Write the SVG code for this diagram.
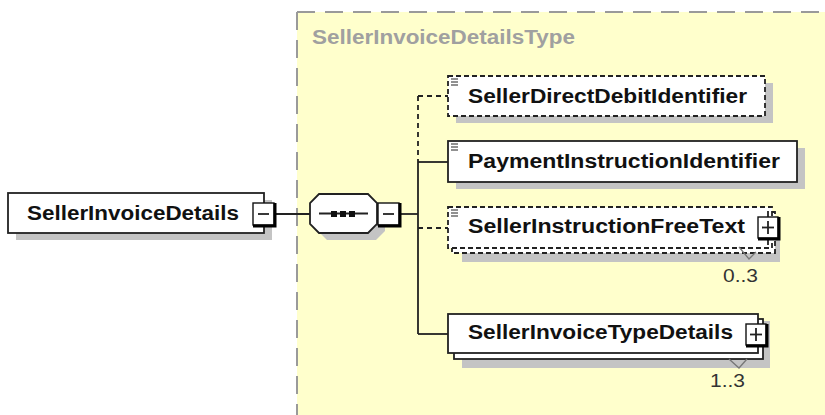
<svg xmlns="http://www.w3.org/2000/svg" width="825" height="415" viewBox="0 0 825 415">
  <style>
    .name { font-family: "Liberation Sans", Arial, sans-serif; font-weight: bold; font-size: 19.5px; fill: #111; }
    .title { font-family: "Liberation Sans", Arial, sans-serif; font-weight: bold; font-size: 19.5px; fill: #a0a0a0; }
    .occ { font-family: "Liberation Sans", Arial, sans-serif; font-size: 18px; fill: #333; }
    .box { fill: #fff; stroke: #222; stroke-width: 1.8; }
    .dbox { fill: #fff; stroke: #222; stroke-width: 1.8; stroke-dasharray: 5 3; }
    .shadow { fill: #c4c4c4; }
    .ln { stroke: #222; stroke-width: 1.8; fill: none; }
    .dln { stroke: #222; stroke-width: 1.8; fill: none; stroke-dasharray: 5 4; }
    .btn { fill: #fff; stroke: #111; stroke-width: 1.4; }
    .btnedge { stroke: #000; stroke-width: 3; fill: none; }
    .icon { stroke: #555; stroke-width: 1.3; }
    .notch { stroke: #777; stroke-width: 1.3; fill: none; }
  </style>

  <!-- complex type area -->
  <g id="type-area">
    <rect x="297" y="12" width="530" height="405" fill="#ffffcc"/>
    <line x1="297" y1="12" x2="825" y2="12" stroke="#9a9a9a" stroke-width="2" stroke-dasharray="18 10"/>
    <line x1="297" y1="12" x2="297" y2="415" stroke="#9a9a9a" stroke-width="2" stroke-dasharray="18 10"/>
    <text class="title" x="312" y="44" textLength="263" lengthAdjust="spacingAndGlyphs">SellerInvoiceDetailsType</text>
  </g>

  <!-- connectors -->
  <g id="connectors">
    <line class="ln" x1="276" y1="214" x2="310" y2="214"/>
    <line class="ln" x1="400" y1="214" x2="418" y2="214"/>
    <line class="dln" x1="418" y1="96" x2="418" y2="162"/>
    <line class="ln" x1="418" y1="162" x2="418" y2="334"/>
    <line class="dln" x1="418" y1="96" x2="448" y2="96"/>
    <line class="ln" x1="418" y1="162" x2="448" y2="162"/>
    <line class="dln" x1="418" y1="228" x2="448" y2="228"/>
    <line class="ln" x1="418" y1="334" x2="448" y2="334"/>
  </g>

  <!-- root element -->
  <g id="node-SellerInvoiceDetails">
    <rect class="shadow" x="16" y="200" width="256" height="40"/>
    <rect class="box" x="8" y="193" width="256" height="40"/>
    <text class="name" x="27" y="220" textLength="212" lengthAdjust="spacingAndGlyphs">SellerInvoiceDetails</text>
    <rect class="btn" x="253" y="203" width="21" height="22"/>
    <polyline class="btnedge" points="275,203 275,226 253,226"/>
    <line class="ln" x1="258" y1="214" x2="269" y2="214"/>
  </g>

  <!-- sequence compositor -->
  <g id="node-sequence">
    <polygon class="shadow" points="327,201 376,201 385,210 385,231 376,240 327,240 318,231 318,210"/>
    <polygon class="box" points="319,194 368,194 377,203 377,224 368,233 319,233 310,224 310,203"/>
    <line class="ln" x1="319" y1="213.5" x2="368" y2="213.5"/>
    <rect x="331" y="211" width="6" height="6" fill="#111"/>
    <rect x="340" y="211" width="6" height="6" fill="#111"/>
    <rect x="349" y="211" width="6" height="6" fill="#111"/>
    <rect class="btn" x="378" y="203" width="21" height="22"/>
    <polyline class="btnedge" points="400,203 400,226 378,226"/>
    <line class="ln" x1="383" y1="214" x2="394" y2="214"/>
  </g>

  <!-- SellerDirectDebitIdentifier (optional) -->
  <g id="node-SellerDirectDebitIdentifier">
    <rect class="shadow" x="456" y="83" width="317" height="40"/>
    <rect class="dbox" x="448" y="76" width="317" height="40"/>
    <line class="icon" x1="451" y1="79" x2="458" y2="79"/>
    <line class="icon" x1="451" y1="82" x2="458" y2="82"/>
    <line class="icon" x1="451" y1="85" x2="458" y2="85"/>
    <text class="name" x="468" y="103" textLength="279" lengthAdjust="spacingAndGlyphs">SellerDirectDebitIdentifier</text>
  </g>

  <!-- PaymentInstructionIdentifier -->
  <g id="node-PaymentInstructionIdentifier">
    <rect class="shadow" x="456" y="148" width="349" height="41"/>
    <rect class="box" x="448" y="141" width="349" height="41"/>
    <line class="icon" x1="451" y1="144" x2="458" y2="144"/>
    <line class="icon" x1="451" y1="147" x2="458" y2="147"/>
    <line class="icon" x1="451" y1="150" x2="458" y2="150"/>
    <text class="name" x="468" y="168" textLength="312" lengthAdjust="spacingAndGlyphs">PaymentInstructionIdentifier</text>
  </g>

  <!-- SellerInstructionFreeText 0..3 -->
  <g id="node-SellerInstructionFreeText">
    <rect class="shadow" x="462" y="219" width="318" height="43"/>
    <rect class="dbox" x="452" y="212" width="323" height="41"/>
    <rect class="dbox" x="448" y="207" width="324" height="41"/>
    <line class="icon" x1="451" y1="210" x2="458" y2="210"/>
    <line class="icon" x1="451" y1="213" x2="458" y2="213"/>
    <line class="icon" x1="451" y1="216" x2="458" y2="216"/>
    <text class="name" x="468" y="233" textLength="277" lengthAdjust="spacingAndGlyphs">SellerInstructionFreeText</text>
    <line class="ln" x1="768" y1="211" x2="768" y2="217"/>
    <line class="ln" x1="768" y1="239" x2="768" y2="245"/>
    <rect class="btn" x="758" y="217" width="20" height="21"/>
    <polyline class="btnedge" points="779,217 779,239 758,239"/>
    <line class="ln" x1="762" y1="227.5" x2="774" y2="227.5"/>
    <line class="ln" x1="768" y1="221" x2="768" y2="234"/>
    <polyline class="notch" points="739,247 749,259 756,252"/>
    <text class="occ" x="723" y="282" textLength="35" lengthAdjust="spacingAndGlyphs">0..3</text>
  </g>

  <!-- SellerInvoiceTypeDetails 1..3 -->
  <g id="node-SellerInvoiceTypeDetails">
    <rect class="shadow" x="462" y="321" width="308" height="47"/>
    <rect class="box" x="454" y="319" width="309" height="40"/>
    <rect class="box" x="448" y="314" width="310" height="39"/>
    <text class="name" x="468" y="339" textLength="265" lengthAdjust="spacingAndGlyphs">SellerInvoiceTypeDetails</text>
    <rect class="btn" x="746" y="324" width="20" height="21"/>
    <polyline class="btnedge" points="767,324 767,346 746,346"/>
    <line class="ln" x1="750" y1="334.5" x2="762" y2="334.5"/>
    <line class="ln" x1="756" y1="328" x2="756" y2="341"/>
    <polyline class="notch" points="729,359 739,368 747,359"/>
    <text class="occ" x="710" y="387" textLength="35" lengthAdjust="spacingAndGlyphs">1..3</text>
  </g>
</svg>
